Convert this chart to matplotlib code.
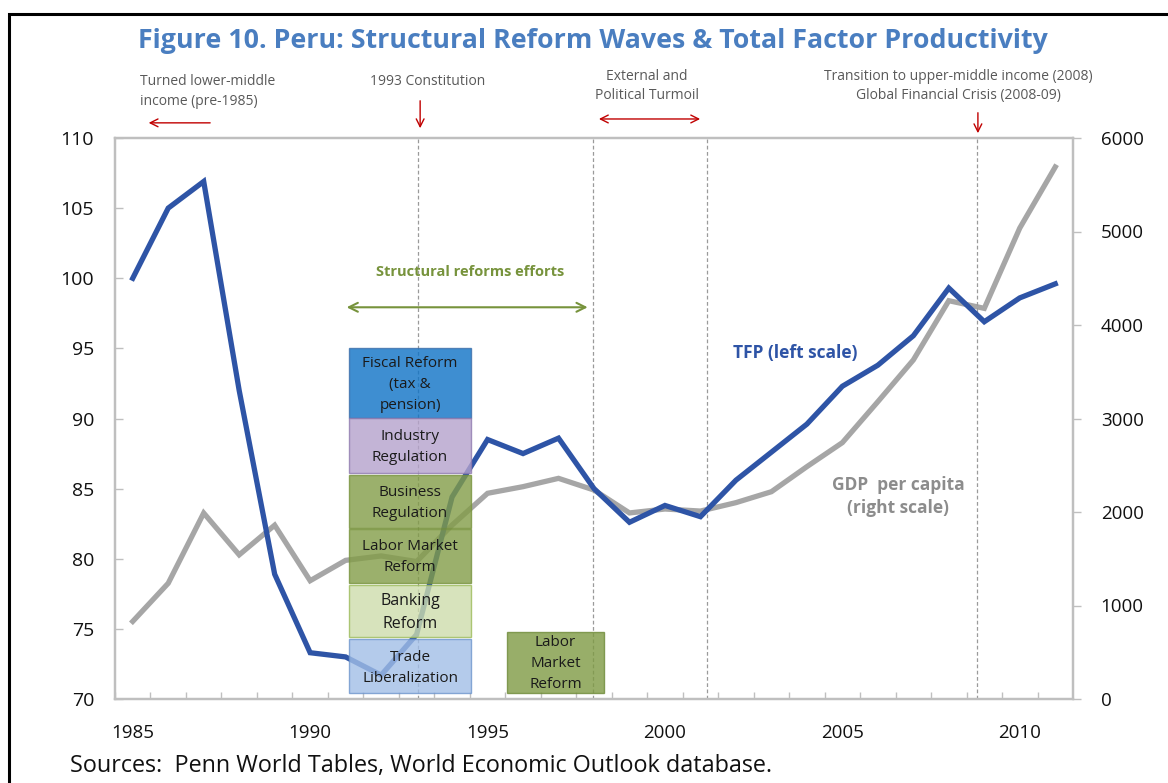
import matplotlib
matplotlib.use("Agg")
import matplotlib.pyplot as plt
from matplotlib.patches import Rectangle

plt.rcParams["font.family"] = ["Open Sans", "DejaVu Sans"]

years = list(range(1985, 2012))
tfp = [100.0, 105.0, 106.9, 92.0, 78.9, 73.3, 73.0, 71.7, 74.6, 84.4,
       88.5, 87.5, 88.6, 85.0, 82.6, 83.8, 83.0, 85.6, 87.6, 89.6,
       92.3, 93.8, 95.9, 99.3, 96.9, 98.6, 99.6]
gdp_pc = [830, 1238, 1989, 1542, 1859, 1265, 1483, 1530, 1470, 1860,
          2200, 2271, 2360, 2235, 1990, 2032, 2010, 2100, 2217, 2485,
          2742, 3180, 3626, 4260, 4178, 5037, 5690]

# event markers (vertical dashed lines)
event_years = [1993.04, 1997.97, 2001.19, 2008.8]

# reform boxes: label, x0, x1, y0, y1 (left scale), colour, edge
reform_boxes = [
    ("Fiscal Reform\n(tax &\npension)", 1991.1, 1994.53, 90.05, 95.0, "#0D72C6", "#3A6EAA"),
    ("Industry\nRegulation", 1991.1, 1994.53, 86.1, 90.0, "#B5A2CC", "#8F7AAE"),
    ("Business\nRegulation", 1991.1, 1994.53, 82.2, 86.0, "#829C47", "#77933C"),
    ("Labor Market\nReform", 1991.1, 1994.53, 78.3, 82.1, "#829C47", "#77933C"),
    ("Banking\nReform", 1991.1, 1994.53, 74.4, 78.15, "#CDDCAB", "#9BBB59"),
    ("Trade\nLiberalization", 1991.1, 1994.53, 70.4, 74.25, "#A1BEE7", "#6E95CC"),
    ("Labor\nMarket\nReform", 1995.55, 1998.28, 70.4, 74.8, "#7E9A43", "#6E8A38"),
]

fig = plt.figure(figsize=(11.68, 7.83), dpi=100)
ax = fig.add_axes([115 / 1168, 1 - 699 / 783, 958 / 1168, 561 / 783])
ax2 = ax.twinx()
ax.set_zorder(ax2.get_zorder() + 1)
ax.patch.set_visible(False)

ax2.plot(years, gdp_pc, color="#A6A6A6", lw=3.8, solid_joinstyle="miter", zorder=3)
ax.plot(years, tfp, color="#2E54A6", lw=3.8, solid_joinstyle="miter", zorder=3)

for ev in event_years:
    ax.axvline(ev, color="#9A9A9A", lw=0.9, ls=(0, (3, 2)), zorder=2)

for label, x0, x1, y0, y1, fc, ec in reform_boxes:
    ax.add_patch(Rectangle((x0, y0), x1 - x0, y1 - y0, facecolor=fc, edgecolor=ec,
                           lw=1.0, alpha=0.8, zorder=4))
    fs = 11.5 if label.startswith("Banking") else 11
    ax.text((x0 + x1) / 2, (y0 + y1) / 2 - 0.1, label, ha="center", va="center",
            fontsize=fs, color="#1A1A1A", linespacing=1.55, zorder=5)

ax.set_xlim(1984.5, 2011.5)
ax.set_ylim(70, 110)
ax2.set_ylim(0, 6000)
ax.set_yticks(range(70, 111, 5))
ax2.set_yticks(range(0, 6001, 1000))
ax.set_xticks(range(1985, 2011, 5))
ax.set_xticks([y + 0.5 for y in range(1984, 2011)], minor=True)

for a in (ax, ax2):
    for s in a.spines.values():
        s.set_color("#BFBFBF")
        s.set_linewidth(1.6)
ax.tick_params(axis="x", which="major", length=0, pad=18, labelsize=13.5, labelcolor="#111111")
ax.tick_params(axis="x", which="minor", direction="in", length=5, width=1, color="#BFBFBF")
ax.tick_params(axis="y", direction="in", length=6, width=1, color="#BFBFBF",
               labelsize=14, labelcolor="#111111", pad=15)
ax2.tick_params(axis="y", direction="out", length=6, width=1, color="#BFBFBF",
                labelsize=13.5, labelcolor="#111111", pad=14)

# annotations above the plot
red = "#C00000"
grey_txt = "#595959"
arrow_red = dict(arrowstyle="->", color=red, lw=1.0, mutation_scale=14)
arrow_red2 = dict(arrowstyle="<->", color=red, lw=1.0, mutation_scale=14)

ax.text(1985.2, 1.083, "Turned lower-middle\nincome (pre-1985)", transform=ax.get_xaxis_transform(),
        ha="left", va="center", fontsize=10, color=grey_txt, linespacing=1.45)
ax.annotate("", xy=(1985.37, 1.027), xytext=(1987.26, 1.027), xycoords=("data", "axes fraction"),
            arrowprops=arrow_red, annotation_clip=False)

ax.text(1993.3, 1.1016, "1993 Constitution", transform=ax.get_xaxis_transform(),
        ha="center", va="center", fontsize=10, color=grey_txt)
ax.annotate("", xy=(1993.1, 1.0125), xytext=(1993.1, 1.0713), xycoords=("data", "axes fraction"),
            arrowprops=arrow_red, annotation_clip=False)

ax.text(1999.49, 1.0927, "External and\nPolitical Turmoil", transform=ax.get_xaxis_transform(),
        ha="center", va="center", fontsize=10, color=grey_txt, linespacing=1.45)
ax.annotate("", xy=(1998.06, 1.0339), xytext=(2001.07, 1.0339), xycoords=("data", "axes fraction"),
            arrowprops=arrow_red2, annotation_clip=False)

ax.text(2008.26, 1.0927, "Transition to upper-middle income (2008)\nGlobal Financial Crisis (2008-09)",
        transform=ax.get_xaxis_transform(), ha="center", va="center", fontsize=10,
        color=grey_txt, linespacing=1.45)
ax.annotate("", xy=(2008.82, 1.0036), xytext=(2008.82, 1.05), xycoords=("data", "axes fraction"),
            arrowprops=arrow_red, annotation_clip=False)

green = "#77933C"
ax.text(1994.5, 100.43, "Structural reforms efforts", ha="center", va="center",
        fontsize=10.5, fontweight="bold", color=green)
ax.annotate("", xy=(1990.95, 97.93), xytext=(1997.9, 97.93),
            arrowprops=dict(arrowstyle="<->", color=green, lw=1.5, mutation_scale=16))

ax.text(2001.92, 94.64, "TFP (left scale)", ha="left", va="center", fontsize=12.5,
        fontweight="bold", color="#2E54A6", zorder=6)
ax.text(2006.57, 84.46, "GDP  per capita\n(right scale)", ha="center", va="center",
        fontsize=12.5, fontweight="bold", color="#8C8C8C", linespacing=1.35, zorder=6)

fig.text(593 / 1168, 1 - 41 / 783, "Figure 10. Peru: Structural Reform Waves & Total Factor Productivity",
         ha="center", va="center", fontsize=19.3, fontweight="bold", color="#4A7EC0")
fig.text(70 / 1168, 1 - 766 / 783, "Sources:  Penn World Tables, World Economic Outlook database.",
         ha="left", va="center", fontsize=16.8, color="#111111")

fig.add_artist(Rectangle((9 / 1168, -0.1), 2, 1.1 - 14 / 783, transform=fig.transFigure,
                         fill=False, edgecolor="black", lw=2.2, clip_on=False))

plt.savefig("out.png", dpi=100)
plt.close()
